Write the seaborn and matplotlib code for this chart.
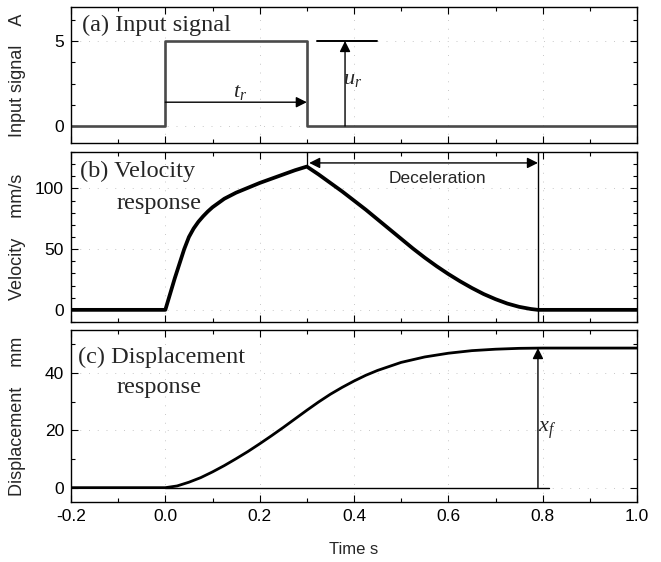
import numpy as np
import pandas as pd
import matplotlib
matplotlib.use("Agg")
import matplotlib.pyplot as plt
from matplotlib.ticker import MultipleLocator
import seaborn as sns

# ---------------- data ----------------
t_input = [-0.2, 0.0, 0.0, 0.3, 0.3, 1.0]
u_input = [0, 0, 5, 5, 0, 0]

t_vel = [-0.2, 0.0, 0.01, 0.02, 0.03, 0.04, 0.05, 0.06, 0.07, 0.08, 0.09,
         0.10, 0.125, 0.15, 0.175, 0.20, 0.225, 0.25, 0.275, 0.30,
         0.325, 0.35, 0.375, 0.40, 0.425, 0.45, 0.475, 0.50, 0.525, 0.55,
         0.575, 0.60, 0.625, 0.65, 0.675, 0.70, 0.725, 0.75, 0.775, 0.79, 1.0]
v_vel = [0, 0, 13, 26, 38, 50, 60, 67, 72.5, 77, 81,
         84.5, 91.5, 96.5, 100.5, 104.5, 108, 111.5, 115, 118,
         111.5, 104.5, 97.5, 90, 82.5, 74.5, 66.5, 58.5, 50.5, 43,
         36, 29.5, 23.5, 18, 13, 8.8, 5.2, 2.5, 0.7, 0, 0]

t_disp = [-0.2, 0.0, 0.025, 0.05, 0.075, 0.10, 0.125, 0.15, 0.175, 0.20,
          0.225, 0.25, 0.275, 0.30, 0.325, 0.35, 0.375, 0.40, 0.425, 0.45,
          0.50, 0.55, 0.60, 0.65, 0.70, 0.75, 0.80, 1.0]
d_disp = [0, 0, 0.6, 1.9, 3.5, 5.5, 7.7, 10.1, 12.6, 15.3,
          18.1, 21.0, 24.0, 27.0, 29.9, 32.6, 35.0, 37.2, 39.2, 40.9,
          43.7, 45.6, 46.9, 47.8, 48.3, 48.6, 48.7, 48.7]

x_ticks = [-0.2, 0.0, 0.2, 0.4, 0.6, 0.8, 1.0]
x_tick_labels = ["-0.2", "0.0", "0.2", "0.4", "0.6", "0.8", "1.0"]

# ---------------- style ----------------
sns.set_theme(style="ticks")
plt.rcParams["font.family"] = ["Liberation Sans", "DejaVu Sans"]
plt.rcParams["mathtext.fontset"] = "custom"
plt.rcParams["mathtext.it"] = "Liberation Serif:italic"
plt.rcParams["mathtext.rm"] = "Liberation Serif"
plt.rcParams["axes.linewidth"] = 1.0
plt.rcParams["axes.edgecolor"] = "black"

SERIF = ["Liberation Serif", "DejaVu Serif"]

fig = plt.figure(figsize=(6.61, 5.62), dpi=100)
W, H = 661.0, 562.0
left = 71 / W
width = 566 / W


def make_ax(top_px, bot_px, sharex=None):
    return fig.add_axes([left, (H - bot_px) / H, width, (bot_px - top_px) / H],
                        sharex=sharex)


ax_a = make_ax(7, 143)
ax_b = make_ax(152, 322, sharex=ax_a)
ax_c = make_ax(330, 502, sharex=ax_a)

df_in = pd.DataFrame({"t": t_input, "u": u_input})
df_v = pd.DataFrame({"t": t_vel, "v": v_vel})
df_d = pd.DataFrame({"t": t_disp, "d": d_disp})

sns.lineplot(data=df_in, x="t", y="u", ax=ax_a, sort=False, estimator=None,
             color="#4a4a4a", lw=1.9)
sns.lineplot(data=df_v, x="t", y="v", ax=ax_b, sort=False, estimator=None,
             color="black", lw=2.7)
sns.lineplot(data=df_d, x="t", y="d", ax=ax_c, sort=False, estimator=None,
             color="black", lw=2.0)

ax_a.set_ylim(-1, 7)
ax_b.set_ylim(-10, 130)
ax_c.set_ylim(-5, 55)
ax_a.set_xlim(-0.2, 1.0)

ax_a.yaxis.set_major_locator(MultipleLocator(5))
ax_a.yaxis.set_minor_locator(MultipleLocator(1.25))
ax_b.yaxis.set_major_locator(MultipleLocator(50))
ax_b.yaxis.set_minor_locator(MultipleLocator(10))
ax_c.yaxis.set_major_locator(MultipleLocator(20))
ax_c.yaxis.set_minor_locator(MultipleLocator(10))

for ax in (ax_a, ax_b, ax_c):
    ax.set_xticks(x_ticks)
    ax.xaxis.set_minor_locator(MultipleLocator(0.1))
    ax.tick_params(which="both", direction="in", top=True, right=True,
                   width=0.8, labelsize=12.5, pad=5, colors="black")
    ax.tick_params(which="major", length=5)
    ax.tick_params(which="minor", length=3)
    for s in ax.spines.values():
        s.set_visible(True)
        s.set_color("black")
    ax.grid(True, which="major", color="#c8c8c8", linestyle=(0, (1, 8)), lw=0.7)
    ax.set_xlabel("")
    ax.yaxis.set_label_coords(-0.08, 0.5)

ax_c.set_xticklabels(x_tick_labels)
ax_a.tick_params(labelbottom=False)
ax_b.tick_params(labelbottom=False)

ax_a.set_ylabel("Input signal    A", fontsize=13)
ax_b.set_ylabel("Velocity    mm/s", fontsize=13)
ax_c.set_ylabel("Displacement    mm", fontsize=13)
ax_c.set_xlabel("Time s", fontsize=12, labelpad=13)

# ---------------- annotations: panel a ----------------
ax_a.text(-0.177, 5.9, "(a) Input signal", family=SERIF, fontsize=17.5,
          va="center", ha="left")
ax_a.annotate("", xy=(0.3, 1.4), xytext=(0.0, 1.4),
              arrowprops=dict(arrowstyle="-|>", color="black", lw=1.0,
                              mutation_scale=16, shrinkA=0, shrinkB=0))
ax_a.text(0.158, 2.0, r"$t_r$", fontsize=16, ha="center", va="center")
ax_a.plot([0.322, 0.449], [5, 5], color="black", lw=1.4)
ax_a.annotate("", xy=(0.381, 5), xytext=(0.381, 0),
              arrowprops=dict(arrowstyle="-|>", color="black", lw=1.0,
                              mutation_scale=16, shrinkA=0, shrinkB=0))
ax_a.text(0.398, 2.8, r"$u_r$", fontsize=16, ha="center", va="center")

# ---------------- annotations: panel b ----------------
ax_b.text(-0.18, 114, "(b) Velocity", family=SERIF, fontsize=17.5,
          va="center", ha="left")
ax_b.text(-0.103, 87.5, "response", family=SERIF, fontsize=17.5,
          va="center", ha="left")
ax_b.axvline(0.79, color="black", lw=1.0)
ax_b.plot([0.3, 0.3], [118, 130], color="black", lw=0.9)
ax_b.annotate("", xy=(0.79, 121), xytext=(0.305, 121),
              arrowprops=dict(arrowstyle="<|-|>", color="black", lw=1.0,
                              mutation_scale=16, shrinkA=0, shrinkB=0))
ax_b.text(0.577, 108, "Deceleration", fontsize=12.5, ha="center", va="center")

# ---------------- annotations: panel c ----------------
ax_c.text(-0.185, 45.6, "(c) Displacement", family=SERIF, fontsize=17.5,
          va="center", ha="left")
ax_c.text(-0.104, 35, "response", family=SERIF, fontsize=17.5,
          va="center", ha="left")
ax_c.plot([0.0, 0.813], [0, 0], color="black", lw=1.0)
ax_c.annotate("", xy=(0.79, 48.7), xytext=(0.79, 0),
              arrowprops=dict(arrowstyle="-|>", color="black", lw=1.0,
                              mutation_scale=16, shrinkA=0, shrinkB=0))
ax_c.text(0.81, 20, r"$x_f$", fontsize=16, ha="center", va="center")

fig.savefig("out.png", dpi=100)
